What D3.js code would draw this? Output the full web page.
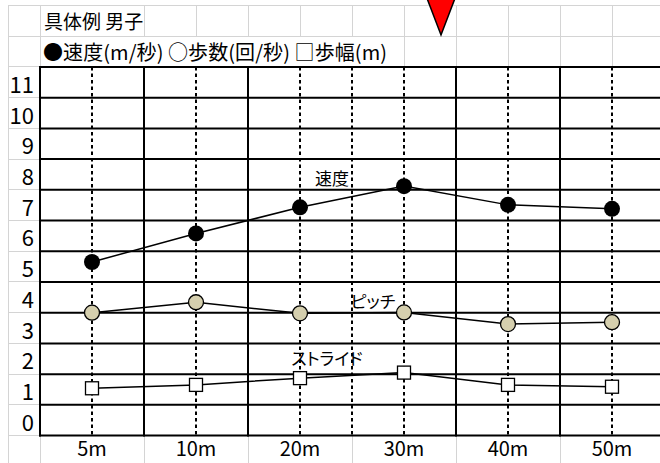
<!DOCTYPE html>
<html>
<head>
<meta charset="utf-8">
<script src="https://cdn.jsdelivr.net/npm/d3@7"></script>
<style>
  body { margin: 0; background: #fff; }
  svg { display: block; }
  text { font-family: "Noto Sans CJK JP", "Noto Sans", sans-serif; fill: #000; }
</style>
</head>
<body>
<svg id="chart" width="660" height="463"></svg>
<script>
// ---- data ----
const categories = ["5m", "10m", "20m", "30m", "40m", "50m"];
const speed  = [5.15, 6.08, 6.93, 7.62, 7.01, 6.88];   // 速度 (m/秒)
const pitch  = [3.50, 3.84, 3.48, 3.51, 3.13, 3.19];   // 歩数 (回/秒)
const stride = [1.04, 1.15, 1.37, 1.55, 1.15, 1.09];   // 歩幅 (m)
const yTicks = [0, 1, 2, 3, 4, 5, 6, 7, 8, 9, 10, 11];
const titleText = "具体例 男子";
const legendText = "●速度(m/秒) ○歩数(回/秒) □歩幅(m)";
const seriesNames = ["速度", "ピッチ", "ストライド"];

// ---- sheet geometry ----
const W = 660, H = 463;
const cellW = 52, rowH = 30.72;
const sheetX0 = 8, sheetY0 = 5.5;
const plotLeft = 40, plotRight = 664;
const plotTop = sheetY0 + 2 * rowH;
const plotBottom = plotTop + 12 * rowH;
const gridGray = "#d4d4d4";
const numFont = "\"Noto Sans\", \"Open Sans\", sans-serif";

const svg = d3.select("#chart");

const x = d3.scaleBand().domain(categories).range([plotLeft, plotRight]);
const xc = c => x(c) + x.bandwidth() / 2;
const y = d3.scaleLinear().domain([-0.5, 11.5]).range([plotBottom, plotTop]);

// ---- spreadsheet gridlines ----
const grid = svg.append("g").attr("stroke", gridGray).attr("stroke-width", 1).attr("shape-rendering", "crispEdges");
[sheetY0, sheetY0 + rowH].forEach(yy =>
  grid.append("line").attr("x1", sheetX0).attr("x2", W).attr("y1", yy).attr("y2", yy));
grid.append("line").attr("x1", sheetX0).attr("x2", sheetX0).attr("y1", sheetY0).attr("y2", H);
d3.range(0, 14).forEach(i => {
  const yy = plotTop + i * rowH;
  grid.append("line").attr("x1", sheetX0).attr("x2", plotLeft).attr("y1", yy).attr("y2", yy);
});
grid.append("line").attr("x1", plotLeft).attr("x2", W).attr("y1", plotBottom + rowH).attr("y2", plotBottom + rowH);

// header texts (drawn first so their overflow width is known)
const title = svg.append("text")
  .attr("x", 44).attr("y", sheetY0 + rowH / 2)
  .attr("dominant-baseline", "central")
  .attr("font-size", 19)
  .text(titleText);
const legend = svg.append("text")
  .attr("x", 43).attr("y", sheetY0 + 1.5 * rowH)
  .attr("dominant-baseline", "central")
  .attr("font-size", 20)
  .attr("textLength", 344)
  .attr("lengthAdjust", "spacing")
  .text(legendText);

const titleEnd = 44 + title.node().getComputedTextLength();
const legendEnd = 43 + 344;

// column lines in header rows, hidden where the cell text overflows
const colXs = d3.range(0, 13).map(i => plotLeft + i * cellW);
colXs.forEach(cx => {
  if (cx === plotLeft || cx > titleEnd)
    grid.append("line").attr("x1", cx).attr("x2", cx).attr("y1", sheetY0).attr("y2", sheetY0 + rowH);
  if (cx === plotLeft || cx > legendEnd)
    grid.append("line").attr("x1", cx).attr("x2", cx).attr("y1", sheetY0 + rowH).attr("y2", plotTop);
});
// category label row: merged cells, one per band
categories.forEach(c => {
  [x(c), x(c) + x.bandwidth()].forEach(bx =>
    grid.append("line").attr("x1", bx).attr("x2", bx).attr("y1", plotBottom).attr("y2", H));
});

// ---- plot area ----
svg.append("rect")
  .attr("x", plotLeft).attr("y", plotTop)
  .attr("width", plotRight - plotLeft).attr("height", plotBottom - plotTop)
  .attr("fill", "#fff");

const frame = svg.append("g").attr("stroke", "#000").attr("stroke-width", 2);

// dotted guides at each category centre, plus the 20m|30m boundary
const dashedEdges = ["30m"];
const dotted = categories.map(xc).concat(dashedEdges.map(c => x(c)));
frame.selectAll("line.dot").data(dotted).join("line")
  .attr("class", "dot")
  .attr("x1", d => d).attr("x2", d => d)
  .attr("y1", plotTop).attr("y2", plotBottom)
  .attr("stroke-dasharray", "3.5,3");

// solid column borders
const solid = categories.filter(c => !dashedEdges.includes(c)).map(c => x(c));
frame.selectAll("line.col").data(solid).join("line")
  .attr("class", "col")
  .attr("x1", d => d).attr("x2", d => d)
  .attr("y1", plotTop - 1).attr("y2", plotBottom + 1);

// row lines between value rows
const rowEdges = d3.range(-0.5, 12, 1);
frame.selectAll("line.row").data(rowEdges).join("line")
  .attr("class", "row")
  .attr("x1", plotLeft - 1).attr("x2", W)
  .attr("y1", d => y(d)).attr("y2", d => y(d));

// ---- axes (labels only) ----
const yAxis = svg.append("g")
  .attr("transform", `translate(${plotLeft},0)`)
  .call(d3.axisLeft(y).tickValues(yTicks).tickSize(0).tickPadding(6).tickFormat(d3.format("d")));
yAxis.select(".domain").remove();
yAxis.selectAll("text")
  .attr("font-size", 22)
  .attr("font-family", numFont)
  .attr("dy", null)
  .attr("dominant-baseline", "central");

const xAxis = svg.append("g")
  .attr("transform", `translate(0,${plotBottom})`)
  .call(d3.axisBottom(x).tickSize(0).tickPadding(0));
xAxis.select(".domain").remove();
xAxis.selectAll("text")
  .attr("font-size", 20)
  .attr("font-family", numFont)
  .attr("y", rowH / 2 - 3)
  .attr("dy", null)
  .attr("dominant-baseline", "central");

// ---- series ----
const line = d3.line().x(d => xc(d.c)).y(d => y(d.v));
const pts = vals => categories.map((c, i) => ({ c, v: vals[i] }));

[speed, pitch, stride].forEach(vals => {
  svg.append("path")
    .attr("d", line(pts(vals)))
    .attr("fill", "none")
    .attr("stroke", "#000")
    .attr("stroke-width", 1.5);
});

svg.append("g").selectAll("circle").data(pts(speed)).join("circle")
  .attr("cx", d => xc(d.c)).attr("cy", d => y(d.v))
  .attr("r", 8).attr("fill", "#000");

svg.append("g").selectAll("circle").data(pts(pitch)).join("circle")
  .attr("cx", d => xc(d.c)).attr("cy", d => y(d.v))
  .attr("r", 7.5).attr("fill", "#d5cfae")
  .attr("stroke", "#000").attr("stroke-width", 1.3);

const sq = 13;
svg.append("g").selectAll("rect").data(pts(stride)).join("rect")
  .attr("x", d => xc(d.c) - sq / 2).attr("y", d => y(d.v) - sq / 2)
  .attr("width", sq).attr("height", sq)
  .attr("fill", "#fff")
  .attr("stroke", "#000").attr("stroke-width", 1.3);

// ---- series labels ----
const labelPos = [
  { c: "20m", dx: 32, v: 7.89, size: 17 },
  { c: "30m", dx: -31, v: 3.91, size: 17 },
  { c: "20m", dx: 27, v: 2.04, size: 17 }
];
seriesNames.forEach((name, i) => {
  const p = labelPos[i];
  svg.append("text")
    .attr("x", xc(p.c) + p.dx).attr("y", y(p.v))
    .attr("text-anchor", "middle")
    .attr("dominant-baseline", "central")
    .attr("font-size", p.size)
    .style("font-feature-settings", "\"palt\"")
    .text(name);
});

// ---- red marker pointing down ----
const tipX = 441, tipY = 35, halfW = 14.5, topY = -3;
svg.append("path")
  .attr("d", d3.line()([[tipX - halfW, topY], [tipX + halfW, topY], [tipX, tipY]]) + "Z")
  .attr("fill", "#ff0000")
  .attr("stroke", "#000")
  .attr("stroke-width", 1.5)
  .attr("stroke-linejoin", "miter");
</script>
</body>
</html>
